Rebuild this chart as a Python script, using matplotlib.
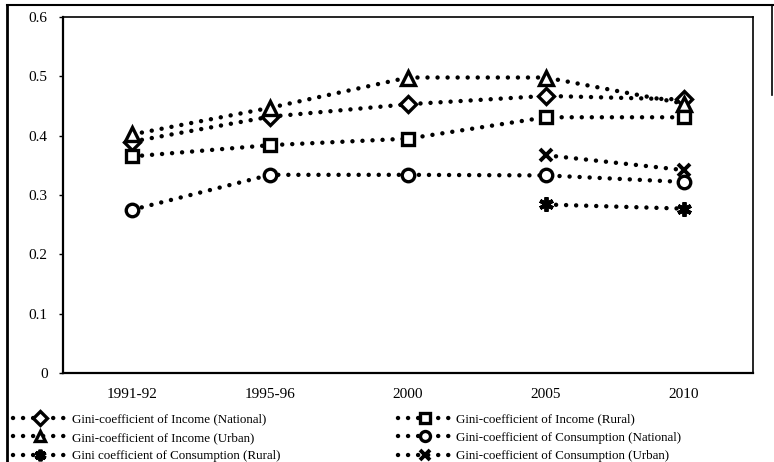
import matplotlib
matplotlib.use("Agg")
import matplotlib.pyplot as plt
from matplotlib.lines import Line2D

years = ["1991-92", "1995-96", "2000", "2005", "2010"]
inc_national = [0.39, 0.432, 0.453, 0.467, 0.461]
inc_urban = [0.402, 0.447, 0.498, 0.498, 0.454]
inc_rural = [0.365, 0.384, 0.395, 0.431, 0.431]
con_national = [0.275, 0.334, 0.334, 0.333, 0.322]
con_rural = [None, None, None, 0.284, 0.277]
con_urban = [None, None, None, 0.367, 0.342]
yticks = [0, 0.1, 0.2, 0.3, 0.4, 0.5, 0.6]
ytick_labels = ["0", "0.1", "0.2", "0.3", "0.4", "0.5", "0.6"]

labels = {
    "inc_national": "Gini-coefficient of Income (National)",
    "inc_rural": "Gini-coefficient of Income (Rural)",
    "inc_urban": "Gini-coefficient of Income (Urban)",
    "con_national": "Gini-coefficient of Consumption (National)",
    "con_rural": "Gini coefficient of Consumption (Rural)",
    "con_urban": "Gini-coefficient of Consumption (Urban)",
}

plt.rcParams['font.family'] = ['Liberation Serif', 'DejaVu Serif']

fig = plt.figure(figsize=(7.74, 4.62), dpi=100)
W, H = 774, 462
ax = fig.add_axes([63 / W, 1 - 373 / H, (753 - 63) / W, (373 - 17) / H])

x = list(range(len(years)))

def plot_series(vals, marker, label, ms=9, mew=2.4, fill='white'):
    xs = [xi for xi, v in zip(x, vals) if v is not None]
    ys = [v for v in vals if v is not None]
    ln, = ax.plot(xs, ys, color='black', linewidth=3.2,
                  linestyle=(0, (0.01, 2.25)), dash_capstyle='round',
                  marker=marker, markersize=ms, markeredgewidth=mew,
                  markerfacecolor=fill, markeredgecolor='black', label=label,
                  zorder=3)
    return ln

h1 = plot_series(inc_national, 'D', labels["inc_national"], ms=8.5)
h2 = plot_series(inc_urban, '^', labels["inc_urban"], ms=9.5)
h3 = plot_series(con_rural, (6, 2, 0), labels["con_rural"], ms=10.5, mew=2.8)
h4 = plot_series(inc_rural, 's', labels["inc_rural"], ms=8.5)
h5 = plot_series(con_national, 'o', labels["con_national"], ms=9)
h6 = plot_series(con_urban, 'x', labels["con_urban"], ms=9, mew=2.8)

ax.set_xlim(-0.5, len(years) - 0.5)
ax.set_ylim(0, 0.6)
ax.set_yticks(yticks)
ax.set_yticklabels(ytick_labels)
ax.set_xticks(x)
ax.set_xticklabels(years)
ax.tick_params(axis='y', direction='out', length=3, width=1, pad=8, labelsize=11)
ax.tick_params(axis='x', length=0, pad=11, labelsize=11)
for s in ax.spines.values():
    s.set_color('black')
ax.spines['left'].set_linewidth(1.6)
ax.spines['bottom'].set_linewidth(1.6)
ax.spines['top'].set_linewidth(1.2)
ax.spines['right'].set_linewidth(1.2)

handles = [h1, h2, h3, h4, h5, h6]
fig.legend(handles=handles, labels=[h.get_label() for h in handles],
           ncol=2, loc='upper left', bbox_to_anchor=(13 / W, 1 - 413 / H),
           frameon=False, fontsize=9.4, numpoints=1, handlelength=4.1,
           handletextpad=0.4, columnspacing=9.0, labelspacing=0.5,
           borderaxespad=0, borderpad=0, markerscale=0.8)

# outer frame of the figure panel
fig.add_artist(Line2D([7 / W, 7 / W], [0, 1 - 5 / H], transform=fig.transFigure,
                      color='black', linewidth=2))
fig.add_artist(Line2D([7 / W, 773 / W], [1 - 5 / H, 1 - 5 / H], transform=fig.transFigure,
                      color='black', linewidth=1.5))
fig.add_artist(Line2D([772 / W, 772 / W], [1 - 5 / H, 1 - 95 / H], transform=fig.transFigure,
                      color='black', linewidth=1.2))

fig.savefig("out.png", dpi=100)
